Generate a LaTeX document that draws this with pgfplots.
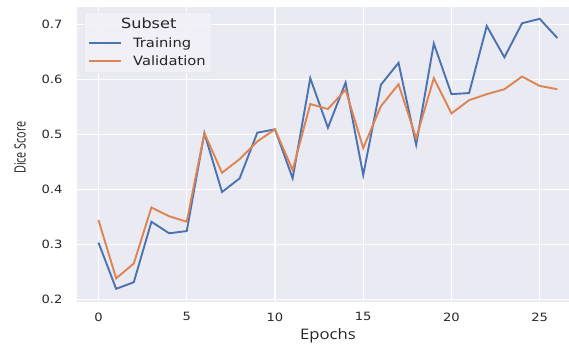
\documentclass[border=0pt]{standalone}
\usepackage{fontspec}
\setmainfont{DejaVu Sans}[FakeStretch=1.15]
\newfontfamily\labfont{Open Sans}[FakeStretch=1.15]
\newfontfamily\ylabfont{Open Sans}[FakeStretch=0.7]
\usepackage{pgfplots}
\pgfplotsset{compat=1.18}
\definecolor{sbbg}{HTML}{EAEAF2}
\definecolor{sbblue}{HTML}{4C72B0}
\definecolor{sborange}{HTML}{DD8452}
\definecolor{sbtext}{HTML}{262626}
\begin{document}
\begin{tikzpicture}
\begin{axis}[
  scale only axis,
  width=492pt, height=295pt,
  xmin=-1.218, xmax=26.66,
  ymin=0.195, ymax=0.7315,
  xtick={0,5,10,15,20,25},
  ytick={0.2,0.3,0.4,0.5,0.6,0.7},
  /pgf/number format/assume math mode=true,
  yticklabel style={/pgf/number format/fixed,/pgf/number format/precision=1,/pgf/number format/fixed zerofill},
  ticklabel style={font=\fontsize{11.4}{13}\selectfont, text=sbtext},
  yticklabel style={xshift=-11pt},
  xticklabel style={yshift=-7pt},
  axis background/.style={fill=sbbg},
  axis line style={draw=none},
  tick style={draw=none},
  grid=major,
  major grid style={white, line width=1.2pt},
  xlabel={\labfont Epochs},
  ylabel={\ylabfont Dice Score},
  xlabel style={at={(axis description cs:0.510,-0.1153)}, anchor=center, font=\fontsize{14.5}{16}\selectfont, text=sbtext},
  ylabel style={at={(axis description cs:-0.1159,0.5237)}, anchor=center, font=\fontsize{15.5}{17}\selectfont, text=sbtext},
  legend style={at={(axis description cs:0.0142,0.983)}, anchor=north west,
    fill=sbbg!60!white, fill opacity=0.85, text opacity=1, draw=black!12, rounded corners=2pt,
    font=\fontsize{12.8}{15}\selectfont, text=sbtext, inner xsep=4pt, inner ysep=4pt, row sep=3pt,
    /tikz/every odd column/.append style={column sep=9pt}},
  legend cell align=left,
  legend image code/.code={\draw[#1] (0pt,0pt) -- (32pt,0pt);},
]
\addlegendimage{empty legend}
\addlegendentry{\hspace{-12pt}\fontsize{14}{16}\selectfont Subset}
\addplot[sbblue, line width=1.9pt] coordinates {
(0,0.303) (1,0.219) (2,0.231) (3,0.341) (4,0.320) (5,0.324) (6,0.502) (7,0.395)
(8,0.420) (9,0.503) (10,0.509) (11,0.420) (12,0.602) (13,0.512) (14,0.594)
(15,0.426) (16,0.590) (17,0.630) (18,0.481) (19,0.665) (20,0.573) (21,0.575)
(22,0.697) (23,0.640) (24,0.702) (25,0.710) (26,0.675)};
\addlegendentry{Training}
\addplot[sborange, line width=1.9pt] coordinates {
(0,0.344) (1,0.238) (2,0.265) (3,0.367) (4,0.351) (5,0.341) (6,0.502) (7,0.430)
(8,0.455) (9,0.487) (10,0.509) (11,0.435) (12,0.555) (13,0.546) (14,0.581)
(15,0.475) (16,0.551) (17,0.591) (18,0.493) (19,0.602) (20,0.538) (21,0.562)
(22,0.573) (23,0.582) (24,0.605) (25,0.588) (26,0.582)};
\addlegendentry{Validation}
\end{axis}
\pgfresetboundingbox
\useasboundingbox ([xshift=-77pt,yshift=-45pt]current axis.south west) rectangle ([yshift=7pt]current axis.north east);
\end{tikzpicture}
\end{document}
